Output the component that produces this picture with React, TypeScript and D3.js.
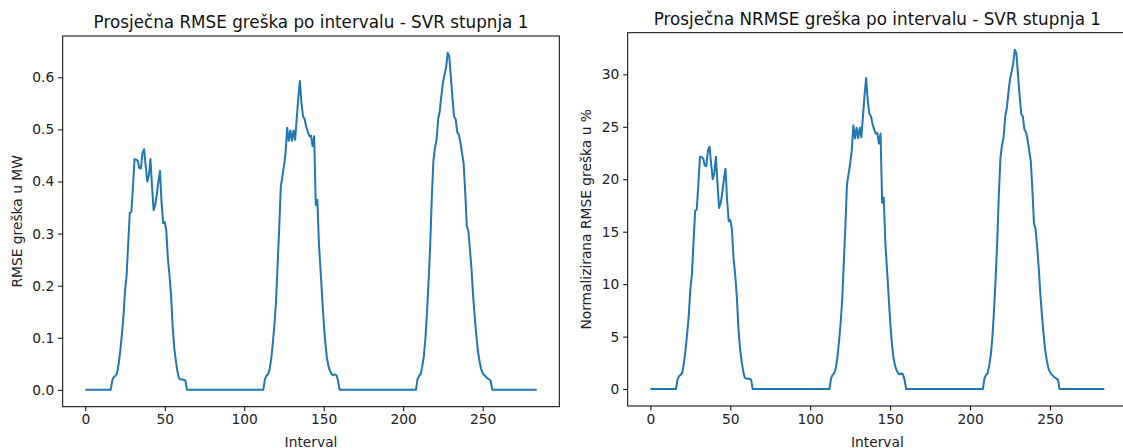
import { useEffect, useRef } from "react";
import * as d3 from "d3";

// x ticks shared by both panels
const xTicks = [0, 50, 100, 150, 200, 250];
const rmseTicks = [0, 0.1, 0.2, 0.3, 0.4, 0.5, 0.6];
const nrmseTicks = [0, 5, 10, 15, 20, 25, 30];

// average RMSE per interval (MW), 285 intervals
const rmse = [
  0, 0, 0, 0, 0, 0, 0, 0, 0, 0, 0, 0, 0, 0, 0, 0, 0,
  0.018, 0.025, 0.027, 0.032, 0.05, 0.075, 0.105, 0.14, 0.19, 0.22, 0.28, 0.34,
  0.342, 0.39, 0.443, 0.442, 0.44, 0.426, 0.425, 0.455, 0.462, 0.43, 0.40, 0.412,
  0.443, 0.39, 0.345, 0.355, 0.375, 0.40, 0.42, 0.36, 0.32, 0.322, 0.305, 0.25,
  0.22, 0.18, 0.12, 0.08, 0.055, 0.035, 0.022, 0.02, 0.02, 0.019, 0.018,
  0, 0, 0, 0, 0, 0, 0, 0, 0, 0, 0, 0, 0, 0, 0, 0, 0, 0, 0, 0, 0, 0, 0, 0, 0,
  0, 0, 0, 0, 0, 0, 0, 0, 0, 0, 0, 0, 0, 0, 0, 0, 0, 0, 0, 0, 0, 0, 0, 0,
  0.02, 0.027, 0.03, 0.04, 0.06, 0.09, 0.125, 0.17, 0.24, 0.31, 0.39, 0.41,
  0.43, 0.455, 0.503, 0.478, 0.498, 0.478, 0.498, 0.48, 0.52, 0.56, 0.593, 0.55,
  0.525, 0.52, 0.505, 0.495, 0.487, 0.488, 0.468, 0.487, 0.355, 0.365, 0.28, 0.23,
  0.18, 0.13, 0.09, 0.062, 0.045, 0.036, 0.03, 0.028, 0.03, 0.028, 0.018,
  0, 0, 0, 0, 0, 0, 0, 0, 0, 0, 0, 0, 0, 0, 0, 0, 0, 0, 0, 0, 0, 0, 0, 0, 0,
  0, 0, 0, 0, 0, 0, 0, 0, 0, 0, 0, 0, 0, 0, 0, 0, 0, 0, 0, 0, 0, 0, 0, 0,
  0.02, 0.027, 0.03, 0.045, 0.065, 0.1, 0.15, 0.21, 0.28, 0.37, 0.44, 0.465,
  0.48, 0.52, 0.535, 0.565, 0.59, 0.605, 0.62, 0.647, 0.64, 0.6, 0.56, 0.525,
  0.52, 0.495, 0.49, 0.475, 0.455, 0.435, 0.38, 0.315, 0.305, 0.27, 0.23, 0.18,
  0.14, 0.105, 0.075, 0.055, 0.04, 0.032, 0.028, 0.025, 0.022, 0.02, 0.018,
  0, 0, 0, 0, 0, 0, 0, 0, 0, 0, 0, 0, 0, 0, 0, 0, 0, 0, 0, 0, 0, 0, 0, 0, 0,
  0, 0, 0, 0,
];

// average normalized RMSE per interval (%)
const nrmse = [
  0, 0, 0, 0, 0, 0, 0, 0, 0, 0, 0, 0, 0, 0, 0, 0, 0,
  0.9, 1.25, 1.35, 1.6, 2.5, 3.75, 5.25, 7.0, 9.5, 11.0, 14.0, 17.0,
  17.1, 19.5, 22.15, 22.1, 22.0, 21.3, 21.25, 22.75, 23.1, 21.5, 20.0, 20.6,
  22.15, 19.5, 17.25, 17.75, 18.75, 20.0, 21.0, 18.0, 16.0, 16.1, 15.25, 12.5,
  11.0, 9.0, 6.0, 4.0, 2.75, 1.75, 1.1, 1.0, 1.0, 0.95, 0.9,
  0, 0, 0, 0, 0, 0, 0, 0, 0, 0, 0, 0, 0, 0, 0, 0, 0, 0, 0, 0, 0, 0, 0, 0, 0,
  0, 0, 0, 0, 0, 0, 0, 0, 0, 0, 0, 0, 0, 0, 0, 0, 0, 0, 0, 0, 0, 0, 0, 0,
  1.0, 1.35, 1.5, 2.0, 3.0, 4.5, 6.25, 8.5, 12.0, 15.5, 19.5, 20.5,
  21.5, 22.75, 25.15, 23.9, 24.9, 23.9, 24.9, 24.0, 26.0, 28.0, 29.65, 27.5,
  26.25, 26.0, 25.25, 24.75, 24.35, 24.4, 23.4, 24.35, 17.75, 18.25, 14.0, 11.5,
  9.0, 6.5, 4.5, 3.1, 2.25, 1.8, 1.5, 1.4, 1.5, 1.4, 0.9,
  0, 0, 0, 0, 0, 0, 0, 0, 0, 0, 0, 0, 0, 0, 0, 0, 0, 0, 0, 0, 0, 0, 0, 0, 0,
  0, 0, 0, 0, 0, 0, 0, 0, 0, 0, 0, 0, 0, 0, 0, 0, 0, 0, 0, 0, 0, 0, 0, 0,
  1.0, 1.35, 1.5, 2.25, 3.25, 5.0, 7.5, 10.5, 14.0, 18.5, 22.0, 23.25,
  24.0, 26.0, 26.75, 28.25, 29.5, 30.25, 31.0, 32.35, 32.0, 30.0, 28.0, 26.25,
  26.0, 24.75, 24.5, 23.75, 22.75, 21.75, 19.0, 15.75, 15.25, 13.5, 11.5, 9.0,
  7.0, 5.25, 3.75, 2.75, 2.0, 1.6, 1.4, 1.25, 1.1, 1.0, 0.9,
  0, 0, 0, 0, 0, 0, 0, 0, 0, 0, 0, 0, 0, 0, 0, 0, 0, 0, 0, 0, 0, 0, 0, 0, 0,
  0, 0, 0, 0,
];

const FONT = "'DejaVu Sans', sans-serif";
const LINE = "#1f77b4";
const SMALL = 13.8;
const BIG = 16.8;

function drawPanel(svg: any, cfg: any) {
  var { left, right, top, bottom, values, yTicks, yFmt, title, yLabel, yLabelX } = cfg;
  var n = values.length - 1;

  // matplotlib style 5% margins
  var x = d3.scaleLinear().domain([-0.05 * n, 1.05 * n]).range([left, right]);
  var ymin: any = d3.min(values), ymax: any = d3.max(values);
  var pad = (ymax - ymin) * 0.05;
  var y = d3.scaleLinear().domain([ymin - pad, ymax + pad]).range([bottom, top]);

  var g = svg.append("g");

  // x axis
  var xa = g.append("g")
    .attr("transform", `translate(0,${bottom})`)
    .call(d3.axisBottom(x).tickValues(xTicks).tickSize(4.5).tickPadding(3.5));
  xa.select(".domain").remove();
  xa.selectAll("text").attr("font-size", SMALL).attr("font-family", FONT).attr("fill", "#222");
  xa.selectAll("line").attr("stroke", "#000");

  // y axis
  var ya = g.append("g")
    .attr("transform", `translate(${left},0)`)
    .call(d3.axisLeft(y).tickValues(yTicks).tickFormat(d3.format(yFmt)).tickSize(4.5).tickPadding(4));
  ya.select(".domain").remove();
  ya.selectAll("text").attr("font-size", SMALL).attr("font-family", FONT).attr("fill", "#222");
  ya.selectAll("line").attr("stroke", "#000");

  // the line
  var line = d3.line<number>()
    .x((_d, i) => x(i))
    .y((d) => y(d));
  g.append("path")
    .datum(values)
    .attr("fill", "none")
    .attr("stroke", LINE)
    .attr("stroke-width", 2)
    .attr("stroke-linejoin", "round")
    .attr("d", line);

  // frame
  g.append("rect")
    .attr("x", left).attr("y", top)
    .attr("width", right - left).attr("height", bottom - top)
    .attr("fill", "none").attr("stroke", "#000").attr("stroke-width", 1);

  // texts
  g.append("text")
    .attr("x", (left + right) / 2).attr("y", top - 7.8)
    .attr("text-anchor", "middle")
    .attr("font-family", FONT).attr("font-size", BIG).attr("fill", "#111")
    .text(title);

  g.append("text")
    .attr("x", (left + right) / 2).attr("y", 446.5)
    .attr("text-anchor", "middle")
    .attr("font-family", FONT).attr("font-size", SMALL).attr("fill", "#222")
    .text("Interval");

  g.append("text")
    .attr("transform", `translate(${yLabelX},${(top + bottom) / 2}) rotate(-90)`)
    .attr("text-anchor", "middle")
    .attr("dy", "0.35em")
    .attr("font-family", FONT).attr("font-size", SMALL).attr("fill", "#222")
    .text(yLabel);
}

export default function App() {
  const ref = useRef<SVGSVGElement>(null);

  useEffect(() => {
    var svg = d3.select(ref.current);
    svg.selectAll("*").remove();

    drawPanel(svg, {
      left: 62.7, right: 559.3, top: 36, bottom: 406.7,
      values: rmse, yTicks: rmseTicks, yFmt: ".1f",
      title: "Prosječna RMSE greška po intervalu - SVR stupnja 1",
      yLabel: "RMSE greška u MW", yLabelX: 17,
    });

    drawPanel(svg, {
      left: 627.7, right: 1127, top: 32.7, bottom: 406,
      values: nrmse, yTicks: nrmseTicks, yFmt: "d",
      title: "Prosječna NRMSE greška po intervalu - SVR stupnja 1",
      yLabel: "Normalizirana RMSE greška u %", yLabelX: 586,
    });
  }, []);

  return (
    <svg
      ref={ref}
      width={1123}
      height={448}
      style={{ position: "absolute", left: 0, top: 0, background: "#fff" }}
    />
  );
}
